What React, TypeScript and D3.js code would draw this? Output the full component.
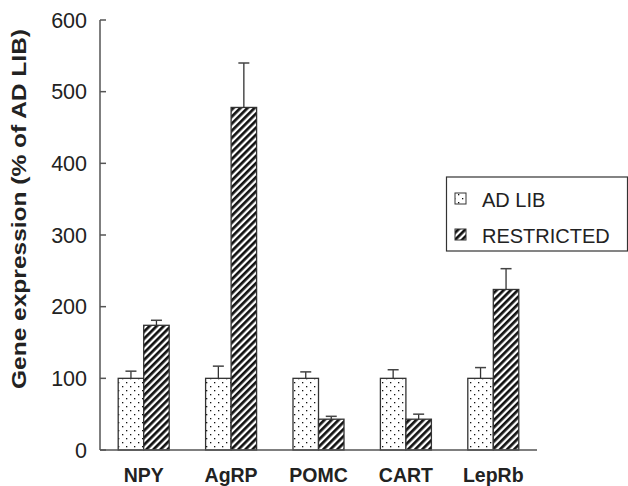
import React from "react";
import * as d3 from "d3";

const categories = ["NPY", "AgRP", "POMC", "CART", "LepRb"];
const series = ["AD LIB", "RESTRICTED"];
const adLib = [100, 100, 100, 100, 100];
const adLibErr = [10, 17, 9, 12, 15];
const restricted = [174, 478, 43, 43, 224];
const restrictedErr = [7, 62, 4, 7, 29];
const yTicks = [0, 100, 200, 300, 400, 500, 600];

export default function App() {
  const W = 628, H = 486;
  const x0 = d3.scaleBand<string>().domain(categories).range([100, 537]).paddingInner(0).paddingOuter(0);
  const y = d3.scaleLinear().domain([0, 600]).range([450, 20]);
  const barW = 25.5;
  const valuesBy = [adLib, restricted];
  const errBy = [adLibErr, restrictedErr];
  const fills = ["url(#dots)", "url(#hatch)"];
  const font = "'Liberation Sans', Arial, sans-serif";
  const axisColor = "#555";

  return (
    <svg width={W} height={H} style={{ position: "absolute", left: 0, top: 0 }} fontFamily={font}>
      <defs>
        <pattern id="dots" patternUnits="userSpaceOnUse" width="8" height="8">
          <rect width="8" height="8" fill="#fff" />
          <rect x="2" y="2" width="1.3" height="1.3" fill="#111" />
          <rect x="6" y="6" width="1.3" height="1.3" fill="#111" />
        </pattern>
        <pattern id="hatch" patternUnits="userSpaceOnUse" width="5" height="5" patternTransform="rotate(45)">
          <rect width="5" height="5" fill="#fff" />
          <rect width="2.7" height="5" fill="#111" />
        </pattern>
      </defs>
      <rect width={W} height={H} fill="#fff" />

      {categories.map((c, i) => {
        const center = (x0(c) as number) + x0.bandwidth() / 2;
        return (
          <g key={c}>
            {series.map((s, j) => {
              const v = valuesBy[j][i];
              const e = errBy[j][i];
              const bx = center - barW + j * barW;
              const cx = bx + barW / 2;
              return (
                <g key={s}>
                  <line x1={cx} x2={cx} y1={y(v)} y2={y(v + e)} stroke="#333" strokeWidth={1.3} />
                  <line x1={cx - 5.5} x2={cx + 5.5} y1={y(v + e)} y2={y(v + e)} stroke="#444" strokeWidth={1.5} />
                  <rect x={bx} y={y(v)} width={barW} height={y(0) - y(v)} fill={fills[j]} stroke="#333" strokeWidth={1.3} />
                </g>
              );
            })}
            <text x={center} y={482} textAnchor="middle" fontWeight="bold" fontSize={19.5} fill="#222">{c}</text>
          </g>
        );
      })}

      <line x1={100} x2={100} y1={y(600)} y2={y(0)} stroke={axisColor} strokeWidth={1.5} />
      <line x1={100} x2={537} y1={y(0)} y2={y(0)} stroke={axisColor} strokeWidth={1.5} />
      {yTicks.map((t) => (
        <g key={t}>
          <line x1={100} x2={106} y1={y(t)} y2={y(t)} stroke={axisColor} strokeWidth={1.5} />
          <text x={87} y={y(t) + 7.5} textAnchor="end" fontSize={21.5} fill="#222">{t}</text>
        </g>
      ))}
      <text transform={`translate(25.5,209) rotate(-90)`} textAnchor="middle" fontWeight="bold" fontSize={21}
        textLength={360} lengthAdjust="spacingAndGlyphs" fill="#222">
        Gene expression (% of AD LIB)
      </text>

      <rect x={446.5} y={177} width={181} height={74} fill="#fff" stroke="#333" strokeWidth={1.2} />
      {series.map((s, j) => (
        <g key={s}>
          <rect x={455} y={193 + j * 36} width={11} height={11} fill={fills[j]} stroke="#333" strokeWidth={1} />
          <text x={482} y={207 + j * 36} fontSize={20} fill="#222">{s}</text>
        </g>
      ))}
    </svg>
  );
}
